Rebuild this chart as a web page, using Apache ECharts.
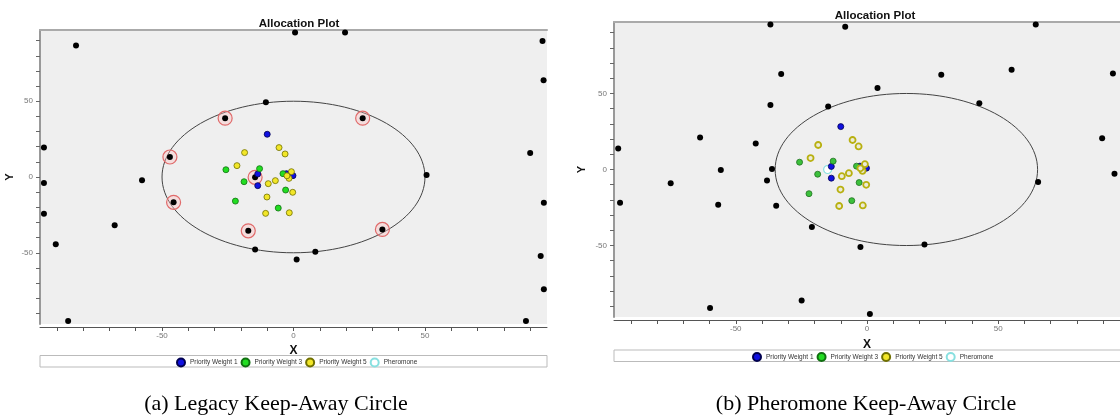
<!DOCTYPE html>
<html><head><meta charset="utf-8">
<script src="https://cdn.jsdelivr.net/npm/echarts@6/dist/echarts.min.js"></script>
<style>html,body{margin:0;padding:0;background:#fff;}#c{width:1120px;height:420px;}</style>
</head><body><div id="c"></div>
<script>
// ---------- data ----------
const titleText = 'Allocation Plot';
const captionA = '(a) Legacy Keep-Away Circle';
const captionB = '(b) Pheromone Keep-Away Circle';
const legendNames = ['Priority Weight 1', 'Priority Weight 3', 'Priority Weight 5', 'Pheromone'];
const xLabelValues = [-50, 0, 50];
const yLabelValues = [-50, 0, 50];
const xTickValues = [-90, -80, -70, -60, -50, -40, -30, -20, -10, 0, 10, 20, 30, 40, 50, 60, 70, 80, 90];
const yTickValues = [-90, -80, -70, -60, -50, -40, -30, -20, -10, 0, 10, 20, 30, 40, 50, 60, 70, 80, 90];
const axisRangeX = [-96.4, 96.4];
const axisRangeY = [-97, 97];

// keep-away circles: [centerX, centerY, radius]
const circleA = [[0, 0, 50]];
const circleB = [[15, 0, 50]];

// black points (panel a)
const blackA = [[-82.7,86.7],[0.6,95.3],[19.6,95.3],[94.7,89.8],[95.1,63.9],[-10.5,49.3],[-26,38.8],[26.3,38.8],
  [-47,13.2],[-94.9,19.4],[90,15.9],[50.6,1.3],[-94.9,-4],[-57.6,-2.2],[-14.6,-0.2],[-45.6,-16.7],[95.2,-17],
  [-94.9,-24.2],[-68,-31.9],[-17.2,-35.5],[33.8,-34.6],[-90.4,-44.3],[-14.6,-47.8],[8.3,-49.3],[1.2,-54.4],
  [94,-52.2],[95.2,-74],[-85.7,-95.1],[88.4,-95.1]];
// highlighted (red rings) points in panel a
const ringedA = [[-26,38.8],[26.3,38.8],[-47,13.2],[-45.6,-16.7],[-14.6,-0.2],[-17.2,-35.5],[33.8,-34.6]];
// black points (panel b)
const blackB = [[-36.8,95.4],[-8.3,93.8],[64.3,95.4],[-32.7,62.8],[28.3,62.3],[55.1,65.6],[93.7,63.2],[4,53.6],
  [-36.8,42.4],[-14.8,41.5],[42.8,43.5],[-63.6,21],[-42.4,17.1],[89.6,20.6],[-94.8,13.8],[-55.7,-0.4],[-36.2,0.4],
  [94.3,-2.8],[-74.8,-9],[-38.1,-7.2],[65.2,-8.3],[-94.1,-21.9],[-56.7,-23.2],[-34.6,-23.8],[-21,-37.8],
  [-2.5,-51],[21.9,-49.4],[-24.9,-86.2],[-59.8,-91],[1.1,-95]];

// priority points (same in both panels)
const weight1 = [[-10,28.2],[-13.6,2],[-13.6,-5.7],[-2.7,2.2],[-0.2,0.9]];
const weight3 = [[-25.7,4.8],[-18.8,-3.1],[-12.9,5.5],[-22.1,-15.9],[-4,2.2],[-3,-8.6],[-5.8,-20.5]];
const weight5 = [[-18.6,16.1],[-21.5,7.5],[-5.5,19.4],[-3.2,15.2],[-9.6,-4.4],[-6.9,-2.4],[-0.8,3.5],[-1.7,-0.9],
  [-0.3,-10.1],[-10.1,-13.2],[-10.6,-24],[-1.6,-23.6],[-2.5,0.8]];
const pheromoneA = [];
const pheromoneB = [[-15,0]];

// ---------- chart ----------
const FONT = 'Liberation Sans';
const chart = echarts.init(document.getElementById('c'), null, {renderer: 'canvas'});

function xAxisFor(g, nameGap) {
  return [{
    type: 'value', gridIndex: g, min: axisRangeX[0], max: axisRangeX[1], position: 'bottom', offset: 3,
    axisLine: {onZero: false, lineStyle: {color: '#555', width: 1}},
    axisTick: {show: true, customValues: xTickValues, length: 4, lineStyle: {color: '#555'}},
    axisLabel: {customValues: xLabelValues, color: '#777', fontSize: 8, margin: 5, fontFamily: FONT},
    splitLine: {show: false},
    name: 'X', nameLocation: 'middle', nameGap: nameGap,
    nameTextStyle: {fontWeight: 'bold', fontSize: 12, color: '#111', fontFamily: FONT}
  }, {
    type: 'value', gridIndex: g, min: axisRangeX[0], max: axisRangeX[1], position: 'top',
    axisLine: {onZero: false, lineStyle: {color: '#aaa', width: 2}},
    axisTick: {show: false}, axisLabel: {show: false}, splitLine: {show: false}
  }];
}
function yAxisFor(g, nameGap) {
  return {
    type: 'value', gridIndex: g, min: axisRangeY[0], max: axisRangeY[1], position: 'left',
    axisLine: {onZero: false, lineStyle: {color: '#999', width: 2}},
    axisTick: {show: true, customValues: yTickValues, length: 4, lineStyle: {color: '#666'}},
    axisLabel: {customValues: yLabelValues, color: '#777', fontSize: 8, margin: 7, fontFamily: FONT},
    splitLine: {show: false},
    name: 'Y', nameLocation: 'middle', nameGap: nameGap,
    nameTextStyle: {fontWeight: 'bold', fontSize: 11, color: '#111', fontFamily: FONT}
  };
}

function circleSeries(data, xi, yi) {
  return {
    type: 'custom', xAxisIndex: xi, yAxisIndex: yi, data: data, silent: true, z: 1, clip: true,
    renderItem: function (params, api) {
      const c = api.coord([api.value(0), api.value(1)]);
      const s = api.size([api.value(2), api.value(2)]);
      return {type: 'ellipse', shape: {cx: c[0], cy: c[1], rx: s[0], ry: s[1]},
        style: {fill: 'none', stroke: '#444', lineWidth: 1}};
    }
  };
}
function scatter(name, data, xi, yi, size, itemStyle, z) {
  return {type: 'scatter', name: name, xAxisIndex: xi, yAxisIndex: yi, data: data, symbol: 'circle',
    symbolSize: size, itemStyle: Object.assign({opacity: 1}, itemStyle), z: z || 4, silent: true, animation: false};
}

const blueStyle = {color: '#1010e0', borderColor: '#000050', borderWidth: 0.8};
const greenStyleA = {color: '#22dd22', borderColor: '#107010', borderWidth: 0.8};
const yellowStyleA = {color: '#f2e628', borderColor: '#707000', borderWidth: 0.8};
const pherStyle = {color: '#ffffff', borderColor: '#88e0e0', borderWidth: 1.2};
const greenStyleB = {color: '#3cc03c', borderColor: '#207020', borderWidth: 0.8};
const yellowStyleB = {color: '#ecebd8', borderColor: '#b8b010', borderWidth: 1.8};

const option = {
  animation: false,
  backgroundColor: '#ffffff',
  title: [
    {text: titleText, left: 294, top: 13, textAlign: 'center',
      textStyle: {fontSize: 11.5, fontWeight: 'bold', color: '#111', fontFamily: FONT}},
    {text: titleText, left: 870, top: 5, textAlign: 'center',
      textStyle: {fontSize: 11.5, fontWeight: 'bold', color: '#111', fontFamily: FONT}}
  ],
  grid: [
    {left: 40, top: 30, width: 507, height: 294, show: true, backgroundColor: '#efefef', borderWidth: 0},
    {left: 614, top: 22, width: 510, height: 295, show: true, backgroundColor: '#efefef', borderWidth: 0}
  ],
  xAxis: [].concat(xAxisFor(0, 18), xAxisFor(1, 19)),
  yAxis: [yAxisFor(0, 25), yAxisFor(1, 27)],
  legend: [
    {data: legendNames.map(n => ({name: n, icon: 'circle'})), left: 176, top: 357.5, padding: 0,
      itemWidth: 8, itemHeight: 8, itemGap: 3,
      textStyle: {fontSize: 6.5, color: '#333', fontFamily: FONT}, selectedMode: false},
    {data: legendNames.map(n => ({name: n, icon: 'circle'})), left: 752, top: 352, padding: 0,
      itemWidth: 8, itemHeight: 8, itemGap: 3,
      textStyle: {fontSize: 6.5, color: '#333', fontFamily: FONT}, selectedMode: false}
  ],
  graphic: [
    {type: 'rect', z: -1, shape: {x: 40, y: 355.5, width: 507, height: 11.5},
      style: {fill: '#fff', stroke: '#bbb', lineWidth: 1}},
    {type: 'rect', z: -1, shape: {x: 614, y: 350, width: 512, height: 11.5},
      style: {fill: '#fff', stroke: '#bbb', lineWidth: 1}},
    {type: 'text', x: 276, y: 404, style: {text: captionA, font: '22px "Liberation Serif"', fill: '#000',
      align: 'center', verticalAlign: 'middle'}},
    {type: 'text', x: 866, y: 404, style: {text: captionB, font: '22px "Liberation Serif"', fill: '#000',
      align: 'center', verticalAlign: 'middle'}}
  ],
  series: [
    circleSeries(circleA, 0, 0),
    scatter('Keep-Away', ringedA, 0, 0, 14, {color: 'rgba(255,190,190,0.35)', borderColor: '#e06a6a', borderWidth: 1.2}, 2),
    scatter('Target', blackA, 0, 0, 6, {color: '#000'}, 3),
    scatter('Priority Weight 1', weight1, 0, 0, 6, blueStyle),
    scatter('Priority Weight 3', weight3, 0, 0, 6, greenStyleA),
    scatter('Priority Weight 5', weight5, 0, 0, 6, yellowStyleA),
    scatter('Pheromone', pheromoneA, 0, 0, 8, pherStyle),

    circleSeries(circleB, 2, 1),
    scatter('Target', blackB, 2, 1, 6, {color: '#000'}, 3),
    scatter('Priority Weight 1', weight1, 2, 1, 6, blueStyle),
    scatter('Priority Weight 3', weight3, 2, 1, 6, greenStyleB),
    scatter('Priority Weight 5', weight5, 2, 1, 6, yellowStyleB),
    scatter('Pheromone', pheromoneB, 2, 1, 8, pherStyle, 2)
  ]
};
chart.setOption(option);
</script>
</body></html>
